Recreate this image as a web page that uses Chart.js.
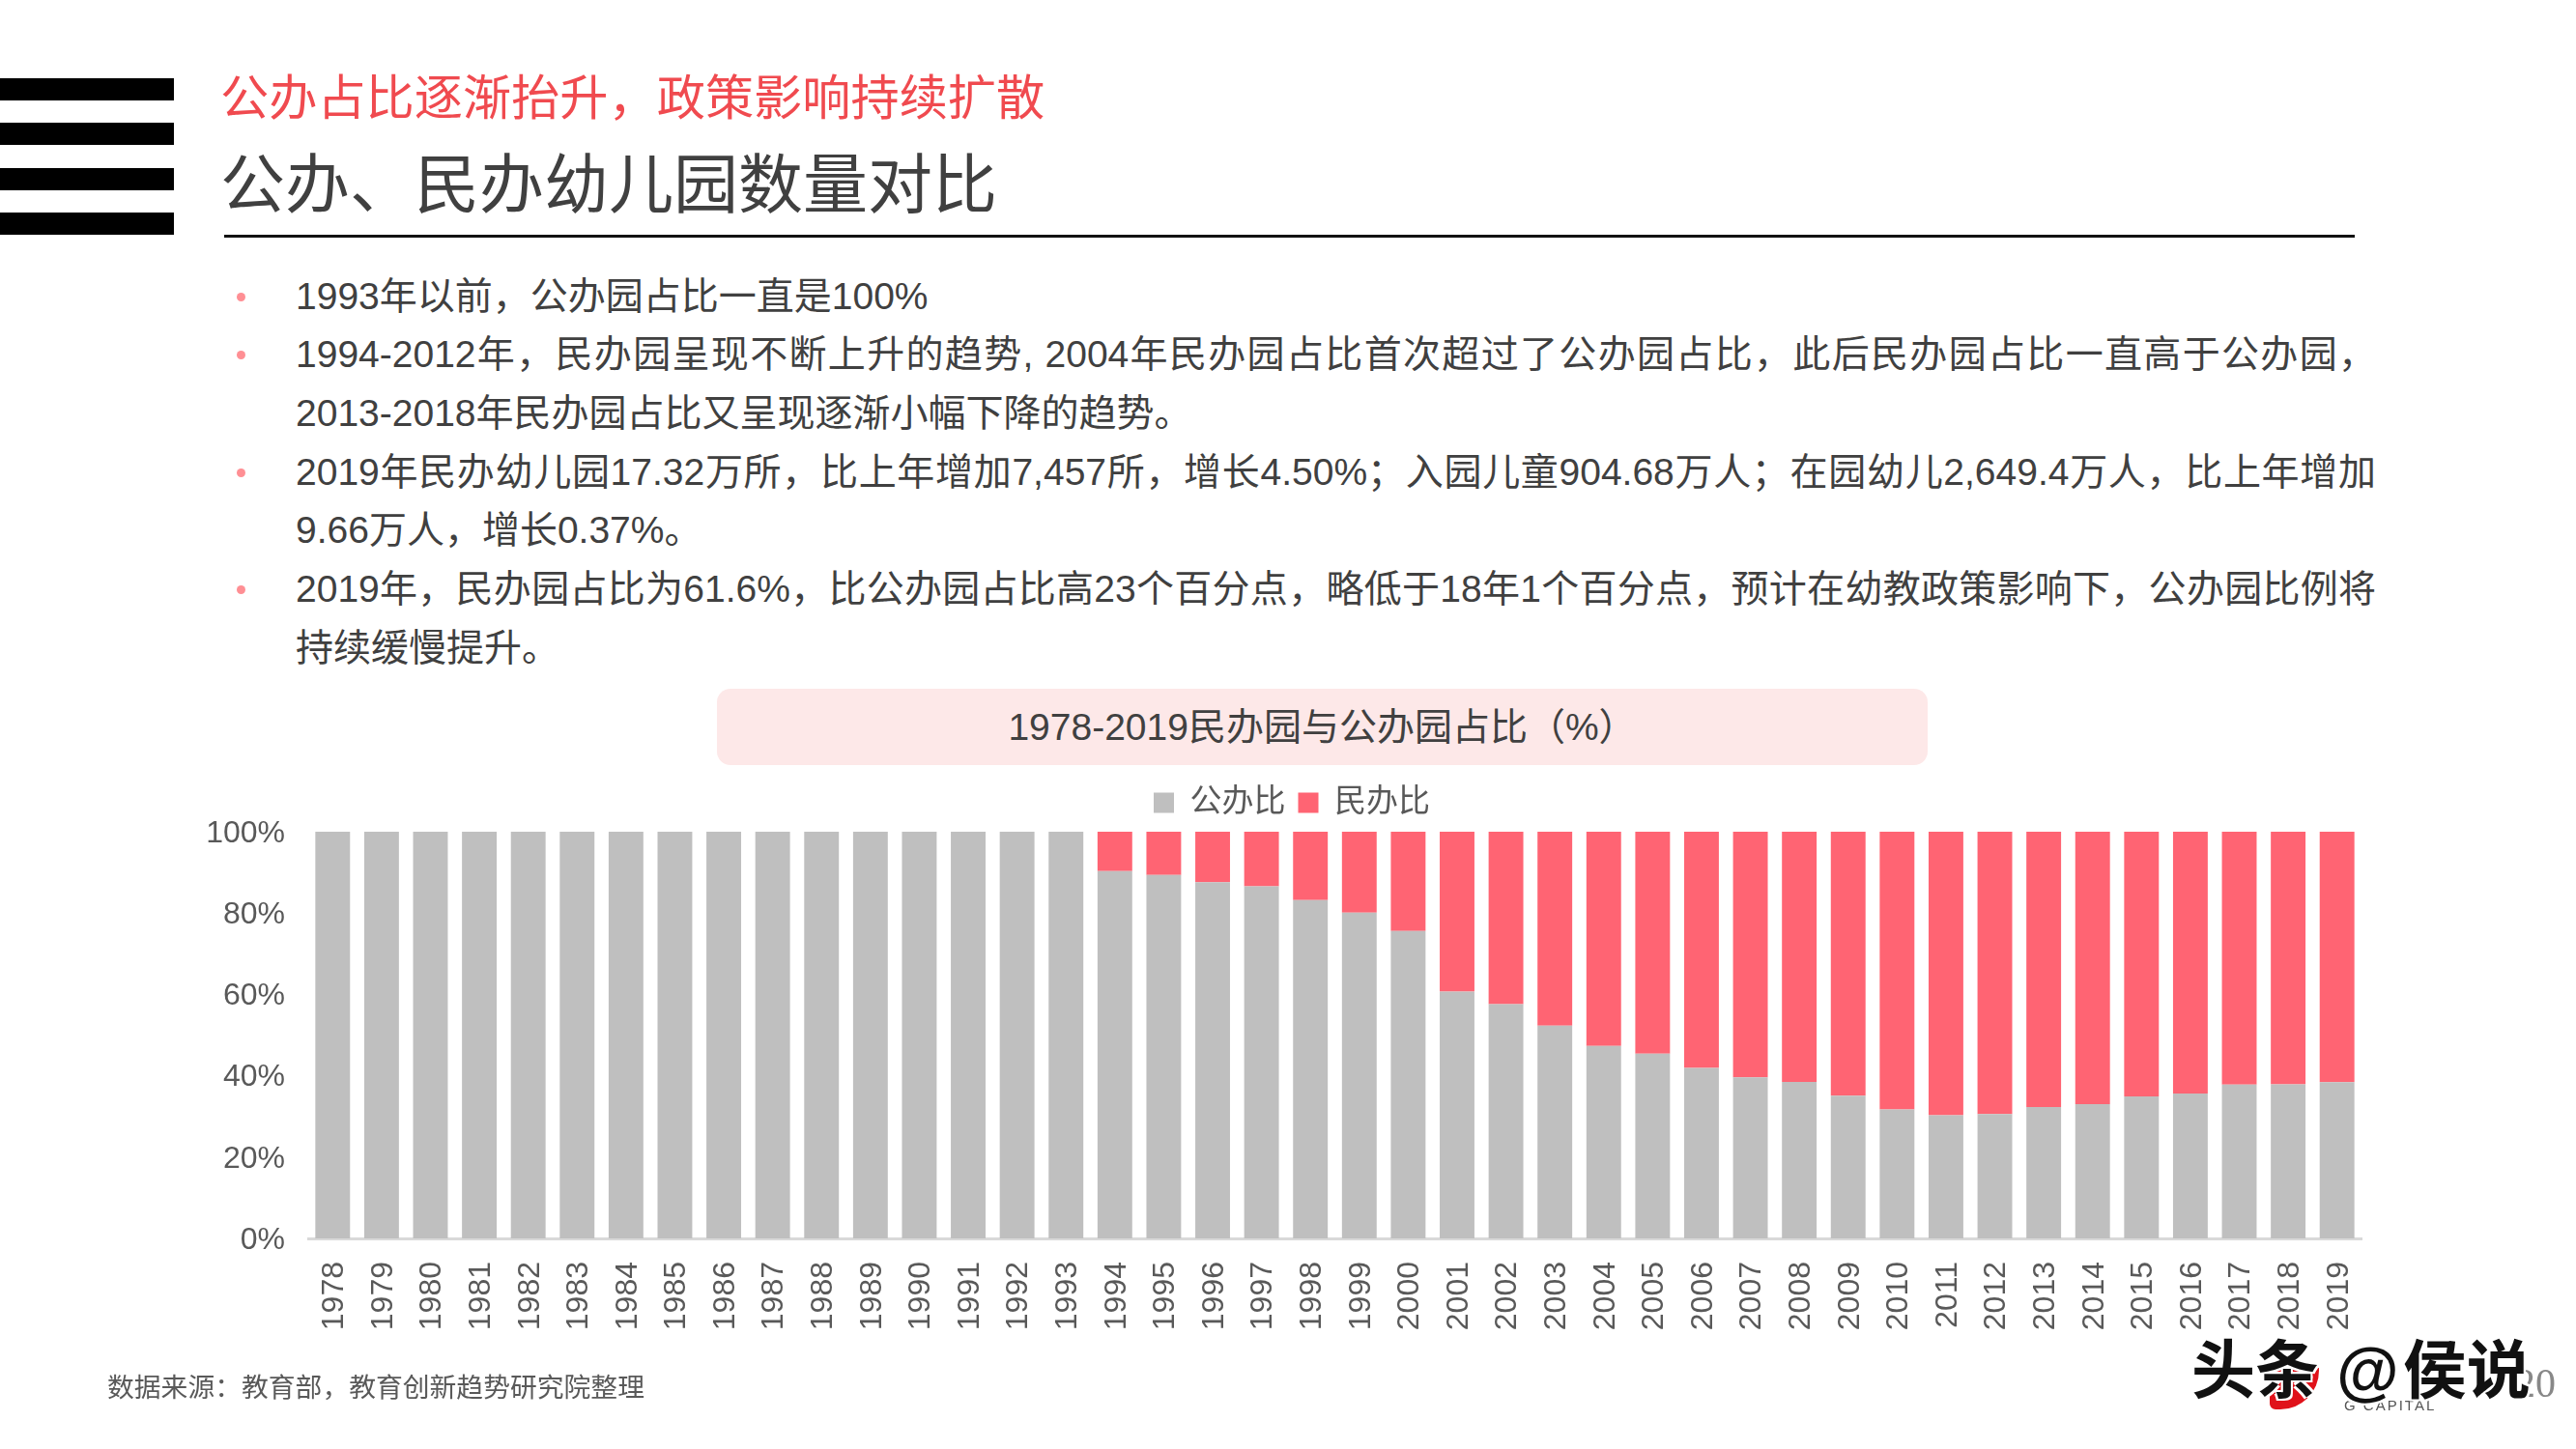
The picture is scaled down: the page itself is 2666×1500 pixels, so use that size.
<!DOCTYPE html>
<html>
<head>
<meta charset="utf-8">
<script src="https://cdn.jsdelivr.net/npm/chart.js@4"></script>
<style>
  html, body { margin: 0; padding: 0; background: #fff; }
  body { width: 2666px; height: 1500px; position: relative; overflow: hidden;
         font-family: "Liberation Sans", "Noto Sans CJK SC", sans-serif; color: #404040; }
  canvas { position: absolute; left: 0; top: 0; }
  .abs { position: absolute; white-space: nowrap; }
  .stripe { position: absolute; left: 0; width: 180px; height: 23px; background: #000; }
  .line { position: absolute; left: 306px; height: 60px; line-height: 60px; font-size: 39px; white-space: nowrap; color: #404040; }
  .line.full { width: 2153px; text-align: justify; text-align-last: justify; white-space: normal; }
  .dot { position: absolute; left: 245px; width: 9px; height: 9px; border-radius: 50%; background: #ff8f94; }
</style>
</head>
<body>
<div class="stripe" style="top:81px"></div>
<div class="stripe" style="top:127px"></div>
<div class="stripe" style="top:174px"></div>
<div class="stripe" style="top:220px"></div>

<div class="abs" style="left:228px;top:72px;font-size:50.2px;line-height:60px;color:#f04a4f">公办占比逐渐抬升，政策影响持续扩散</div>
<div class="abs" style="left:228px;top:152px;font-size:67px;line-height:80px;color:#404040">公办、民办幼儿园数量对比</div>
<div class="abs" style="left:232px;top:243px;width:2205px;height:3px;background:#111"></div>

<div id="bullets"></div>

<div class="abs" style="left:742px;top:713px;width:1253px;height:79px;border-radius:14px;background:#fde8e8;text-align:center;line-height:79px;font-size:39px;color:#404040">1978-2019民办园与公办园占比（%）</div>

<canvas id="chartCanvas" width="2666" height="1500"></canvas>

<div class="abs" style="left:111px;top:1419px;font-size:27.8px;line-height:36px;color:#595959">数据来源：教育部，教育创新趋势研究院整理</div>

<!-- logo, page number and watermark in the bottom right corner -->
<div class="abs" style="left:2349px;top:1416px;width:51px;height:43px;background:#e0121a;border-radius:0 0 40px 6px"></div>
<div class="abs" style="left:2426px;top:1446px;font-size:15px;line-height:18px;letter-spacing:2px;color:#555">G CAPITAL</div>
<div class="abs" style="left:2603px;top:1410px;font-family:'Liberation Serif',serif;font-size:42px;line-height:44px;color:#888">20</div>
<div class="abs" style="left:2268px;top:1381px;font-size:66px;line-height:76px;font-weight:bold;color:#111;text-shadow:-2px -2px 0 #fff,2px 2px 0 #fff,-2px 2px 0 #fff,2px -2px 0 #fff">头条 @<span style="margin-left:4px">侯说</span></div>

<script>
const years = ["1978","1979","1980","1981","1982","1983","1984","1985","1986","1987","1988","1989","1990","1991","1992","1993","1994","1995","1996","1997","1998","1999","2000","2001","2002","2003","2004","2005","2006","2007","2008","2009","2010","2011","2012","2013","2014","2015","2016","2017","2018","2019"];
const publicShare = [100,100,100,100,100,100,100,100,100,100,100,100,100,100,100,100,90.3,89.4,87.6,86.6,83.2,80.1,75.6,60.7,57.6,52.3,47.3,45.4,41.9,39.6,38.5,35.1,31.7,30.3,30.6,32.3,33.0,34.9,35.6,37.8,37.9,38.4];
const privateShare = [0,0,0,0,0,0,0,0,0,0,0,0,0,0,0,0,9.7,10.6,12.4,13.4,16.8,19.9,24.4,39.3,42.4,47.7,52.7,54.6,58.1,60.4,61.5,64.9,68.3,69.7,69.4,67.7,67.0,65.1,64.4,62.2,62.1,61.6];

// text, starts a bullet, justified to the right margin
const bulletLines = [
  ["1993年以前，公办园占比一直是100%", true, false],
  ["1994-2012年，民办园呈现不断上升的趋势, 2004年民办园占比首次超过了公办园占比，此后民办园占比一直高于公办园，", true, true],
  ["2013-2018年民办园占比又呈现逐渐小幅下降的趋势。", false, false],
  ["2019年民办幼儿园17.32万所，比上年增加7,457所，增长4.50%；入园儿童904.68万人；在园幼儿2,649.4万人，比上年增加", true, true],
  ["9.66万人，增长0.37%。", false, false],
  ["2019年，民办园占比为61.6%，比公办园占比高23个百分点，略低于18年1个百分点，预计在幼教政策影响下，公办园比例将", true, true],
  ["持续缓慢提升。", false, false],
];

const bullets = document.getElementById("bullets");
bulletLines.forEach(([text, hasDot, full], i) => {
  const y = 306.5 + i * 60.7;
  const line = document.createElement("div");
  line.className = full ? "line full" : "line";
  line.style.top = (y - 30) + "px";
  line.textContent = text;
  bullets.appendChild(line);
  if (hasDot) {
    const dot = document.createElement("div");
    dot.className = "dot";
    dot.style.top = (y - 4) + "px";
    bullets.appendChild(dot);
  }
});

const font = '"Liberation Sans", "Noto Sans CJK SC", sans-serif';
const axisColor = "#595959";

// the legend sits a little off the centre of the layout box in the reference
const legendNudge = {
  id: "legendNudge",
  afterLayout(chart) {
    chart.legend.left += 20;
    chart.legend.right += 20;
    chart.legend.top -= 3.5;
  },
};

new Chart(document.getElementById("chartCanvas").getContext("2d"), {
  type: "bar",
  plugins: [legendNudge],
  data: {
    labels: years,
    datasets: [
      { label: "公办比", data: publicShare, backgroundColor: "#bfbfbf", barPercentage: 0.71, categoryPercentage: 1 },
      { label: "民办比", data: privateShare, backgroundColor: "#ff6473", barPercentage: 0.71, categoryPercentage: 1 },
    ],
  },
  options: {
    responsive: false,
    animation: false,
    layout: { padding: { left: 190, right: 222, top: 805, bottom: 118 } },
    plugins: {
      title: { display: false },
      tooltip: { enabled: false },
      legend: {
        position: "top",
        labels: {
          boxWidth: 21,
          boxHeight: 21,
          padding: 13,
          color: axisColor,
          font: { family: font, size: 33 },
        },
      },
    },
    scales: {
      x: {
        stacked: true,
        grid: { display: false },
        border: { display: true, color: "#d9d9d9", width: 3 },
        ticks: {
          color: axisColor,
          font: { family: font, size: 32 },
          autoSkip: false,
          minRotation: 90,
          maxRotation: 90,
          padding: 16,
          labelOffset: 2,
        },
        afterFit(scale) { scale.height = 100; },
      },
      y: {
        stacked: true,
        min: 0,
        max: 100,
        grid: { display: false, drawTicks: false },
        border: { display: false },
        ticks: {
          stepSize: 20,
          color: axisColor,
          font: { family: font, size: 32 },
          padding: 24,
          labelOffset: 2,
          callback: (v) => v + "%",
        },
        afterFit(scale) { scale.width = 129; },
      },
    },
  },
});
</script>
</body>
</html>
